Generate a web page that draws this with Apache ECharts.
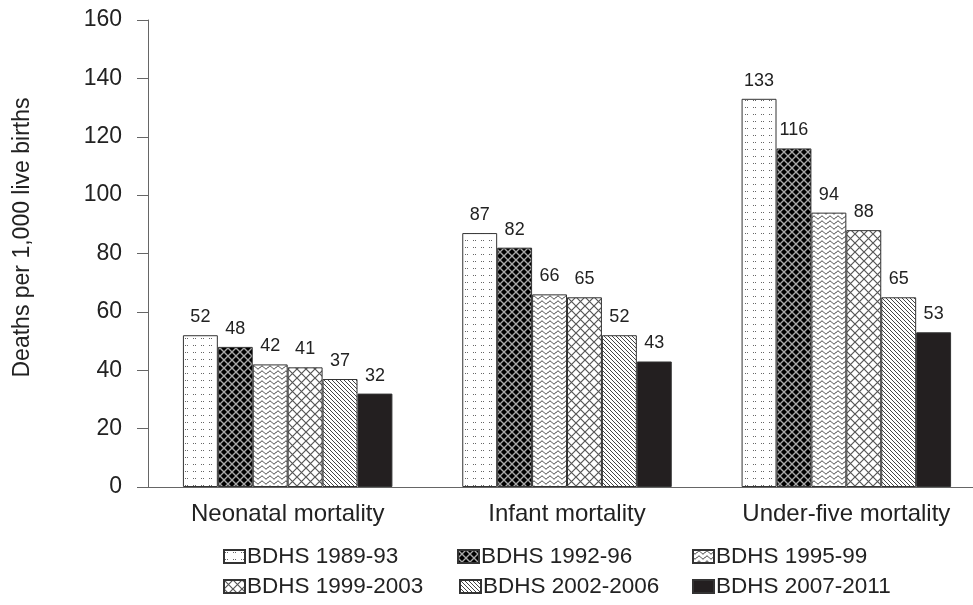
<!DOCTYPE html>
<html>
<head>
<meta charset="utf-8">
<script src="https://cdn.jsdelivr.net/npm/echarts@6/dist/echarts.min.js"></script>
<style>
html,body{margin:0;padding:0;background:#fff;}
#chart{width:973px;height:605px;}
</style>
</head>
<body>
<div id="chart"></div>
<script>
var categories = ['Neonatal mortality', 'Infant mortality', 'Under-five mortality'];
var seriesNames = ['BDHS 1989-93', 'BDHS 1992-96', 'BDHS 1995-99', 'BDHS 1999-2003', 'BDHS 2002-2006', 'BDHS 2007-2011'];
var s1989 = [52, 87, 133];
var s1992 = [48, 82, 116];
var s1995 = [42, 66, 94];
var s1999 = [41, 65, 88];
var s2002 = [37, 52, 65];
var s2007 = [32, 43, 53];
var yTicks = [0, 20, 40, 60, 80, 100, 120, 140, 160];

function tile(w, h, draw) {
  var c = document.createElement('canvas');
  c.width = w; c.height = h;
  var g = c.getContext('2d');
  draw(g, w, h);
  return { image: c, repeat: 'repeat' };
}
var patDots = tile(8, 7, function (g, w, h) {
  g.fillStyle = '#fff'; g.fillRect(0, 0, w, h);
  g.fillStyle = '#666';
  g.fillRect(1, 2, 1, 1); g.fillRect(3, 2, 1, 1);
});
var patBlack = tile(8, 8, function (g, w, h) {
  g.fillStyle = '#000'; g.fillRect(0, 0, w, h);
  g.strokeStyle = '#a8a8a8'; g.lineWidth = 1.4;
  g.beginPath();
  g.moveTo(0, 0); g.lineTo(8, 8);
  g.moveTo(8, 0); g.lineTo(0, 8);
  g.stroke();
  g.fillStyle = '#000';
  g.beginPath(); g.arc(4, 0, 1.6, 0, Math.PI * 2); g.fill();
  g.beginPath(); g.arc(4, 8, 1.6, 0, Math.PI * 2); g.fill();
  g.beginPath(); g.arc(0, 4, 1.6, 0, Math.PI * 2); g.fill();
  g.beginPath(); g.arc(8, 4, 1.6, 0, Math.PI * 2); g.fill();
});
var patWave = tile(8, 5, function (g, w, h) {
  g.fillStyle = '#fff'; g.fillRect(0, 0, w, h);
  g.strokeStyle = '#222'; g.lineWidth = 1;
  g.beginPath();
  for (var x = 0; x <= 8; x += 0.5) {
    var y = 2.5 + 1.4 * Math.sin(x / 8 * Math.PI * 2);
    if (x === 0) g.moveTo(x, y); else g.lineTo(x, y);
  }
  g.stroke();
});
var patCross = tile(9, 9, function (g, w, h) {
  g.fillStyle = '#fff'; g.fillRect(0, 0, w, h);
  g.strokeStyle = '#555'; g.lineWidth = 1.2;
  g.beginPath();
  g.moveTo(0, 0); g.lineTo(9, 9);
  g.moveTo(9, 0); g.lineTo(0, 9);
  g.stroke();
});
var patDiag = tile(4, 4, function (g, w, h) {
  g.fillStyle = '#fff'; g.fillRect(0, 0, w, h);
  g.strokeStyle = '#444'; g.lineWidth = 1;
  g.beginPath();
  g.moveTo(-1, -1); g.lineTo(5, 5);
  g.moveTo(-1, 3); g.lineTo(1, 5);
  g.moveTo(3, -1); g.lineTo(5, 1);
  g.stroke();
});
var patSolid = '#231f20';

var fills = [patDots, patBlack, patWave, patCross, patDiag, patSolid];
var dataSets = [s1989, s1992, s1995, s1999, s2002, s2007];
var legendPos = [[223, 545], [457, 545], [692, 545], [223, 575], [459, 575], [692, 575]];
var FONT = '"Liberation Sans", Arial, sans-serif';

var series = dataSets.map(function (d, i) {
  return {
    name: seriesNames[i],
    type: 'bar',
    data: d,
    barCategoryGap: '25%',
    barGap: '0%',
    itemStyle: { color: fills[i], borderColor: '#333', borderWidth: 1 },
    label: { show: true, position: 'top', distance: 9, color: '#222', fontSize: 18, fontFamily: FONT },
    emphasis: { disabled: true },
    animation: false
  };
});

var legends = seriesNames.map(function (n, i) {
  return {
    data: [{ name: n, icon: 'rect' }],
    left: legendPos[i][0],
    top: legendPos[i][1],
    itemWidth: 21,
    itemHeight: 13,
    itemGap: 0,
    padding: 0,
    selectedMode: false,
    textStyle: { color: '#222', fontSize: 22.5, fontFamily: FONT, padding: [0, 0, 0, -3] }
  };
});

var chart = echarts.init(document.getElementById('chart'), null, { renderer: 'canvas' });
chart.setOption({
  backgroundColor: '#fff',
  animation: false,
  legend: legends,
  grid: { left: 148, width: 838, top: 20, bottom: 118, containLabel: false, outerBoundsMode: 'none' },
  xAxis: {
    type: 'category',
    data: categories,
    axisLine: { lineStyle: { color: '#666', width: 1 } },
    axisTick: { show: false },
    axisLabel: { color: '#222', fontSize: 24, fontFamily: FONT, margin: 15 }
  },
  yAxis: {
    type: 'value',
    min: yTicks[0],
    max: yTicks[yTicks.length - 1],
    interval: yTicks[1] - yTicks[0],
    name: 'Deaths per 1,000 live births',
    nameLocation: 'middle',
    nameGap: 114,
    nameRotate: 90,
    nameTextStyle: { color: '#222', fontSize: 23, fontFamily: FONT, padding: [0, 0, 0, 32] },
    axisLine: { show: true, lineStyle: { color: '#666', width: 1 } },
    axisTick: { show: true, length: 11, lineStyle: { color: '#666' } },
    axisLabel: { color: '#222', fontSize: 23, fontFamily: FONT, margin: 26 },
    splitLine: { show: false }
  },
  series: series
});
</script>
</body>
</html>
